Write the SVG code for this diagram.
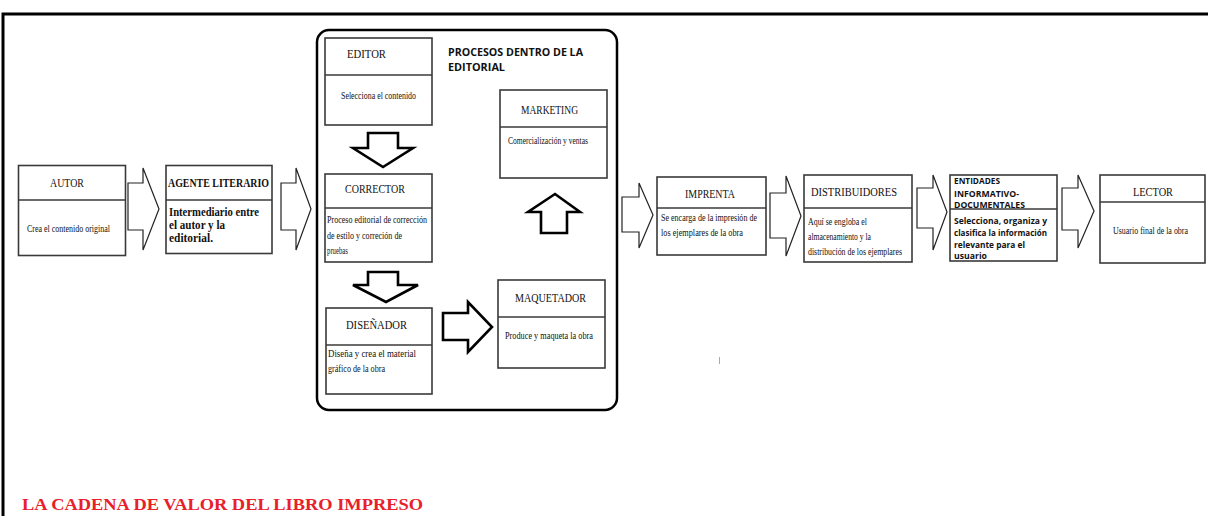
<svg xmlns="http://www.w3.org/2000/svg" width="1208" height="516" viewBox="0 0 1208 516">
<style>
.box{fill:#fff;stroke:#3a3a3a;stroke-width:1.6}
.div{stroke:#3a3a3a;stroke-width:1.4}
.t{font-family:"Liberation Serif","Times New Roman",serif;font-size:12.5px;fill:#111}
.b{font-family:"Liberation Serif","Times New Roman",serif;font-size:11px;fill:#111}
.bb{font-family:"Liberation Serif","Times New Roman",serif;font-size:11.5px;font-weight:bold;fill:#111}
.s{font-family:"Open Sans","Liberation Sans",sans-serif;font-weight:bold;fill:#111}
.arr{fill:#fff;stroke:#222;stroke-width:1.2;stroke-linejoin:miter}
.arrk{fill:#fff;stroke:#000;stroke-width:2.6;stroke-linejoin:miter}
</style>
<rect width="1208" height="516" fill="#fff"/>
<g id="frame">
<path d="M3,516 L3,14 L1208,14" fill="none" stroke="#000" stroke-width="3"/>
<line x1="719.5" y1="357" x2="719.5" y2="364" stroke="#aaa" stroke-width="1"/>
</g>
<g id="editorial">
<rect x="317" y="30" width="300" height="380" rx="12" fill="#fff" stroke="#000" stroke-width="2.5"/>
<text class="s" font-size="11" x="448" y="56" textLength="135" lengthAdjust="spacingAndGlyphs">PROCESOS DENTRO DE LA</text>
<text class="s" font-size="11" x="448" y="71" textLength="57" lengthAdjust="spacingAndGlyphs">EDITORIAL</text>
</g>
<g id="connectors">
<path class="arr" d="M128,183 L143,183 L143,168 L159,209 L143,250 L143,230 L128,230 Z"/>
<path class="arr" d="M281,183 L296,183 L296,168 L311,209 L296,250 L296,230 L281,230 Z"/>
<path class="arrk" d="M368,133 L398,133 L398,148 L413,148 L383,167 L353,148 L368,148 Z"/>
<path class="arrk" d="M368,272 L398,272 L398,285 L418,285 L386,302 L353,285 L368,285 Z"/>
<path class="arrk" d="M541,233 L567,233 L567,212 L580,212 L555,194 L528,212 L541,212 Z"/>
<path class="arrk" d="M443,313 L468,313 L468,302 L492,327 L468,352 L468,340 L443,340 Z"/>
<path class="arr" d="M622,197 L639,197 L639,183 L653,215 L639,248 L639,232 L622,232 Z"/>
<path class="arr" d="M770,193 L786,193 L786,176 L801,216 L786,256 L786,238 L770,238 Z"/>
<path class="arr" d="M917,188 L933,188 L933,175 L947,212 L933,250 L933,228 L917,228 Z"/>
<path class="arr" d="M1062,188 L1078,188 L1078,175 L1094,211 L1078,248 L1078,230 L1062,230 Z"/>
</g>
<g id="autor">
<rect class="box" x="18.5" y="165.5" width="107" height="90"/>
<line class="div" x1="18.5" y1="200" x2="125.5" y2="200"/>
<text class="t" x="50" y="187" textLength="34" lengthAdjust="spacingAndGlyphs">AUTOR</text>
<text class="b" x="27" y="232" textLength="83" lengthAdjust="spacingAndGlyphs">Crea el contenido original</text>
</g>
<g id="agente">
<rect class="box" x="166" y="165.5" width="106" height="88"/>
<line class="div" x1="166" y1="200" x2="272" y2="200"/>
<text class="bb" font-size="9" x="168" y="187" textLength="101" lengthAdjust="spacingAndGlyphs">AGENTE LITERARIO</text>
<text class="bb" x="169" y="216" textLength="90" lengthAdjust="spacingAndGlyphs">Intermediario entre</text>
<text class="bb" x="169" y="229" textLength="56" lengthAdjust="spacingAndGlyphs">el autor y la</text>
<text class="bb" x="169" y="242" textLength="44" lengthAdjust="spacingAndGlyphs">editorial.</text>
</g>
<g id="editor">
<rect class="box" x="325" y="38" width="107" height="87"/>
<line class="div" x1="325" y1="75" x2="432" y2="75"/>
<text class="t" x="347" y="58" textLength="39" lengthAdjust="spacingAndGlyphs">EDITOR</text>
<text class="b" x="341" y="99" textLength="75" lengthAdjust="spacingAndGlyphs">Selecciona el contenido</text>
</g>
<g id="marketing">
<rect class="box" x="500" y="90" width="107" height="88"/>
<line class="div" x1="500" y1="127" x2="607" y2="127"/>
<text class="t" x="521" y="114" textLength="57" lengthAdjust="spacingAndGlyphs">MARKETING</text>
<text class="b" x="508" y="144" textLength="80" lengthAdjust="spacingAndGlyphs">Comercialización y ventas</text>
</g>
<g id="corrector">
<rect class="box" x="325" y="174" width="107" height="88"/>
<line class="div" x1="325" y1="208" x2="432" y2="208"/>
<text class="t" x="345" y="193" textLength="60" lengthAdjust="spacingAndGlyphs">CORRECTOR</text>
<text class="b" x="327" y="223" textLength="100" lengthAdjust="spacingAndGlyphs">Proceso editorial de corrección</text>
<text class="b" x="327" y="239" textLength="75" lengthAdjust="spacingAndGlyphs">de estilo y correción de</text>
<text class="b" x="327" y="254" textLength="21" lengthAdjust="spacingAndGlyphs">pruebas</text>
</g>
<g id="disenador">
<rect class="box" x="326" y="308" width="106" height="86"/>
<line class="div" x1="326" y1="345" x2="432" y2="345"/>
<text class="t" x="346" y="329" textLength="61" lengthAdjust="spacingAndGlyphs">DISEÑADOR</text>
<text class="b" x="328" y="357" textLength="88" lengthAdjust="spacingAndGlyphs">Diseña y crea el material</text>
<text class="b" x="328" y="372" textLength="57" lengthAdjust="spacingAndGlyphs">gráfico de la obra</text>
</g>
<g id="maquetador">
<rect class="box" x="498" y="280" width="107" height="88"/>
<line class="div" x1="498" y1="317" x2="605" y2="317"/>
<text class="t" x="515" y="302" textLength="71" lengthAdjust="spacingAndGlyphs">MAQUETADOR</text>
<text class="b" x="505" y="339" textLength="88" lengthAdjust="spacingAndGlyphs">Produce y maqueta la obra</text>
</g>
<g id="imprenta">
<rect class="box" x="657" y="177" width="109" height="78"/>
<line class="div" x1="657" y1="208" x2="766" y2="208"/>
<text class="t" x="685" y="198" textLength="50" lengthAdjust="spacingAndGlyphs">IMPRENTA</text>
<text class="b" x="661" y="221" textLength="96" lengthAdjust="spacingAndGlyphs">Se encarga de la impresión de</text>
<text class="b" x="661" y="236" textLength="82" lengthAdjust="spacingAndGlyphs">los ejemplares de la obra</text>
</g>
<g id="distribuidores">
<rect class="box" x="804" y="175" width="108" height="87"/>
<line class="div" x1="804" y1="208" x2="912" y2="208"/>
<text class="t" font-size="13.5" x="811" y="196" textLength="86" lengthAdjust="spacingAndGlyphs">DISTRIBUIDORES</text>
<text class="b" x="808" y="225" textLength="59" lengthAdjust="spacingAndGlyphs">Aquí se engloba el</text>
<text class="b" x="808" y="240" textLength="63" lengthAdjust="spacingAndGlyphs">almacenamiento y la</text>
<text class="b" x="808" y="255" textLength="94" lengthAdjust="spacingAndGlyphs">distribución de los ejemplares</text>
</g>
<g id="entidades">
<rect class="box" x="950" y="175" width="107" height="86"/>
<line class="div" x1="950" y1="209" x2="1057" y2="209"/>
<text class="s" font-size="8.5" x="954" y="184" textLength="46" lengthAdjust="spacingAndGlyphs">ENTIDADES</text>
<text class="s" font-size="8.5" x="954" y="197" textLength="65" lengthAdjust="spacingAndGlyphs">INFORMATIVO-</text>
<text class="s" font-size="8.5" x="954" y="208" textLength="71" lengthAdjust="spacingAndGlyphs">DOCUMENTALES</text>
<text class="s" font-size="9" x="954" y="224" textLength="93" lengthAdjust="spacingAndGlyphs">Selecciona, organiza y</text>
<text class="s" font-size="9" x="954" y="236" textLength="93" lengthAdjust="spacingAndGlyphs">clasifica la información</text>
<text class="s" font-size="9" x="954" y="248" textLength="71" lengthAdjust="spacingAndGlyphs">relevante para el</text>
<text class="s" font-size="9" x="954" y="259" textLength="33" lengthAdjust="spacingAndGlyphs">usuario</text>
</g>
<g id="lector">
<rect class="box" x="1100" y="175" width="105" height="88"/>
<line class="div" x1="1100" y1="202" x2="1205" y2="202"/>
<text class="t" font-size="13.5" x="1133" y="196" textLength="40" lengthAdjust="spacingAndGlyphs">LECTOR</text>
<text class="b" x="1113" y="234" textLength="75" lengthAdjust="spacingAndGlyphs">Usuario final de la obra</text>
</g>
<g id="title">
<text x="22" y="510" font-family="Liberation Serif,'Times New Roman',serif" font-weight="bold" font-size="17" fill="#e8202a" textLength="401" lengthAdjust="spacingAndGlyphs">LA CADENA DE VALOR DEL LIBRO IMPRESO</text>
</g>
</svg>
